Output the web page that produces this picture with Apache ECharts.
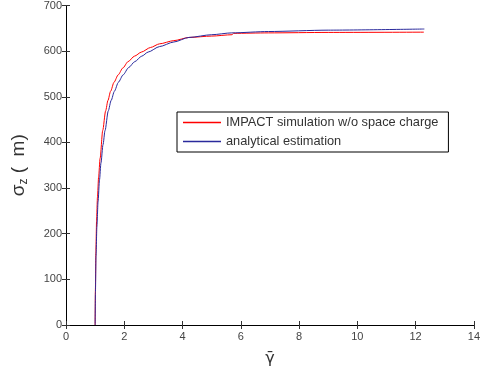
<!DOCTYPE html>
<html>
<head>
<meta charset="utf-8">
<script src="https://cdn.jsdelivr.net/npm/echarts@6/dist/echarts.min.js"></script>
<style>html,body{margin:0;padding:0;background:#fff}#c{width:483px;height:372px}</style>
</head>
<body>
<div id="c"></div>
<script>
const xTicks = [0, 2, 4, 6, 8, 10, 12, 14];
const yTicks = [0, 100, 200, 300, 400, 500, 600, 700];
const seriesNames = ['IMPACT simulation w/o space charge', 'analytical estimation'];
const impactGamma = [1.00,1.01,1.025,1.05,1.08,1.12,1.17,1.26,1.36,1.44,1.53,1.65,1.79,1.95,2.13,2.35,2.59,2.90,3.21,3.70,4.22,5.00,5.70,5.75,6.95,9.00,12.28];
const impactSigma = [0,80,160,230,280,325,365,426,469,492,512,532,548,563,577,589,598,608,616,623,630,633,636,639,640,641,641.6];
const analyticGamma = [1.00,1.01,1.03,1.06,1.10,1.15,1.20,1.27,1.34,1.45,1.55,1.66,1.80,1.96,2.15,2.36,2.60,2.82,3.21,3.70,4.22,5.00,5.69,6.95,9.00,12.30];
const analyticSigma = [0,70,150,215,270,318,355,395,426,469,492,512,532,548,564,577,589,598,610,620,630,636,640,643,646,648.5];

const zip = (a, b) => a.map((v, i) => [v, b[i]]);
const font = 'Liberation Sans, Arial, sans-serif';
const chart = echarts.init(document.getElementById('c'), null, {renderer: 'canvas'});
const axisLine = {show: true, lineStyle: {color: '#000', width: 1}};
chart.setOption({
  animation: false,
  backgroundColor: '#fff',
  grid: {left: 66, right: 7, top: 3, bottom: 45, containLabel: false},
  legend: {
    orient: 'vertical', left: 177, top: 112,
    backgroundColor: '#fff', borderColor: '#000', borderWidth: 1,
    padding: [4, 10, 4, 6], itemGap: 6, itemWidth: 38, itemHeight: 1.5,
    textStyle: {fontFamily: font, fontSize: 12.8, color: '#333'},
    data: [{name: seriesNames[0], icon: 'rect'}, {name: seriesNames[1], icon: 'rect'}]
  },
  xAxis: [{
    type: 'value', min: 0, max: 14, interval: 2, position: 'bottom',
    name: 'γ\u0304', nameLocation: 'middle', nameGap: 26,
    nameTextStyle: {fontFamily: 'DejaVu Sans', fontSize: 16, color: '#333'},
    axisLine: axisLine, axisTick: {inside: true, length: 4, lineStyle: {color: '#333'}},
    axisLabel: {fontFamily: font, fontSize: 11, color: '#444', margin: 6,
      formatter: v => xTicks.includes(v) ? String(v) : ''},
    splitLine: {show: false}
  }, {
    type: 'value', min: 0, max: 14, interval: 2, position: 'top',
    axisLine: axisLine, axisTick: {inside: true, length: 4, lineStyle: {color: '#333'}},
    axisLabel: {show: false}, splitLine: {show: false}
  }],
  yAxis: [{
    type: 'value', min: 0, max: 700, interval: 100, position: 'left',
    name: '{s|σ}{z|z}{s| (  m)}', nameLocation: 'middle', nameGap: 36, nameRotate: 90,
    nameTextStyle: {
      rich: {
        s: {fontFamily: font, fontSize: 19, color: '#333'},
        z: {fontFamily: font, fontSize: 12, color: '#333', verticalAlign: 'bottom', padding: [10, 0, 0, 0]}
      }
    },
    axisLine: axisLine, axisTick: {inside: true, length: 4, lineStyle: {color: '#333'}},
    axisLabel: {fontFamily: font, fontSize: 11, color: '#444', margin: 4,
      formatter: v => yTicks.includes(v) ? String(v) : ''},
    splitLine: {show: false}
  }, {
    type: 'value', min: 0, max: 700, interval: 100, position: 'right',
    axisLine: axisLine, axisTick: {inside: true, length: 4, lineStyle: {color: '#333'}},
    axisLabel: {show: false}, splitLine: {show: false}
  }],
  series: [{
    name: seriesNames[0], type: 'line', data: zip(impactGamma, impactSigma),
    showSymbol: false, smooth: 0.25, smoothMonotone: 'x',
    lineStyle: {color: '#ff0000', width: 1}, itemStyle: {color: '#ff0000'}
  }, {
    name: seriesNames[1], type: 'line', data: zip(analyticGamma, analyticSigma),
    showSymbol: false, smooth: 0.25, smoothMonotone: 'x',
    lineStyle: {color: '#2a2a9c', width: 1}, itemStyle: {color: '#2a2a9c'}
  }]
});
</script>
</body>
</html>
